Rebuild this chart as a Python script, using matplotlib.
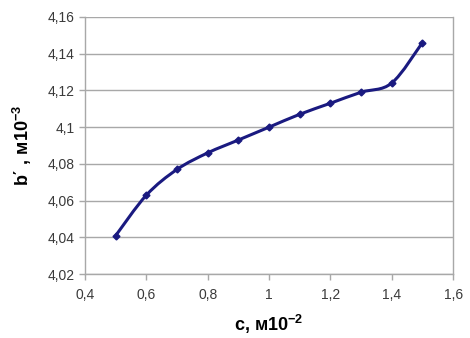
import matplotlib
matplotlib.use("Agg")
import matplotlib.pyplot as plt
from matplotlib.path import Path
from matplotlib.patches import PathPatch
import numpy as np

c_vals = [0.5, 0.6, 0.7, 0.8, 0.9, 1.0, 1.1, 1.2, 1.3, 1.4, 1.5]
b_vals = [4.041, 4.063, 4.077, 4.086, 4.093, 4.100, 4.107, 4.113, 4.119, 4.124, 4.146]
x_ticks = [0.4, 0.6, 0.8, 1.0, 1.2, 1.4, 1.6]
x_tick_labels = ["0,4", "0,6", "0,8", "1", "1,2", "1,4", "1,6"]
y_ticks = [4.02, 4.04, 4.06, 4.08, 4.10, 4.12, 4.14, 4.16]
y_tick_labels = ["4,02", "4,04", "4,06", "4,08", "4,1", "4,12", "4,14", "4,16"]

plt.rcParams['font.family'] = ['Liberation Sans', 'DejaVu Sans']
plt.rcParams['mathtext.fontset'] = 'custom'
plt.rcParams['mathtext.rm'] = 'Liberation Sans'
plt.rcParams['mathtext.bf'] = 'Liberation Sans:bold'
plt.rcParams['mathtext.default'] = 'bf'
fig = plt.figure(figsize=(4.7, 3.38), dpi=100)
ax = fig.add_axes([0.181, 0.189, 0.783, 0.761])

line_color = '#1a1a80'
pts = np.column_stack([c_vals, b_vals])
verts = [tuple(pts[0])]
codes = [Path.MOVETO]
n = len(pts)
for i in range(n - 1):
    p0 = pts[i - 1] if i > 0 else pts[i]
    p1 = pts[i]
    p2 = pts[i + 1]
    p3 = pts[i + 2] if i + 2 < n else pts[i + 1]
    c1 = p1 + (p2 - p0) / 6.0
    c2 = p2 - (p3 - p1) / 6.0
    verts += [tuple(c1), tuple(c2), tuple(p2)]
    codes += [Path.CURVE4, Path.CURVE4, Path.CURVE4]
patch = PathPatch(Path(verts, codes), facecolor='none', edgecolor=line_color, lw=2.2, zorder=3)
ax.add_patch(patch)
ax.plot(c_vals, b_vals, linestyle='none', marker='D', markersize=3.5, color=line_color, zorder=4)

ax.set_xlim(0.4, 1.6)
ax.set_ylim(4.02, 4.16)
ax.set_xticks(x_ticks)
ax.set_xticklabels(x_tick_labels)
ax.set_yticks(y_ticks)
ax.set_yticklabels(y_tick_labels)
ax.grid(axis='y', color='#a8a8a8', lw=1.0)
ax.set_axisbelow(True)
ax.spines['top'].set_visible(False)
for s in ['left', 'bottom', 'right']:
    ax.spines[s].set_color('#a8a8a8')
    ax.spines[s].set_linewidth(1.0)
ax.tick_params(axis='both', colors='#a8a8a8', labelcolor='#3a3a3a', labelsize=10, length=4, width=1)
ax.tick_params(axis='x', pad=6)
ax.set_xlabel("c, м10$^{-2}$", fontsize=13, fontweight='bold', labelpad=8)
ax.set_ylabel("b΄ , м10$^{-3}$", fontsize=13, fontweight='bold', labelpad=10)

fig.savefig("out.png", dpi=100)
